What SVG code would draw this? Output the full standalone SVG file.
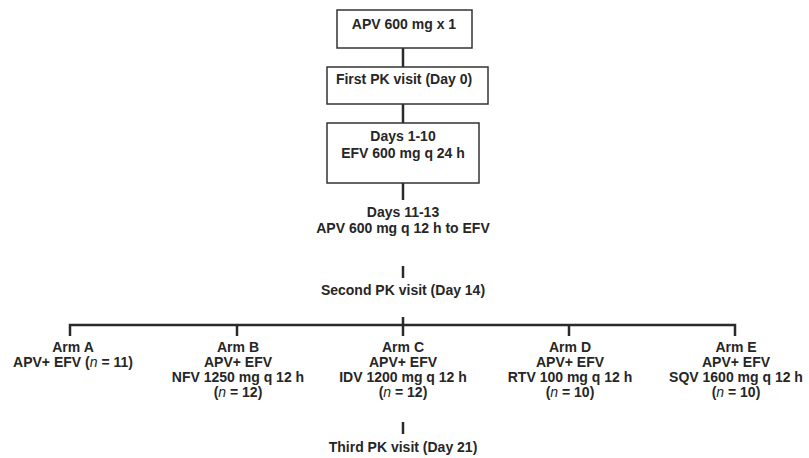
<svg xmlns="http://www.w3.org/2000/svg" width="809" height="458" viewBox="0 0 809 458">
<style>
text{font-family:"Liberation Sans",Arial,sans-serif;font-weight:bold;font-size:14px;fill:#262626;text-anchor:middle}
.box{fill:#fff;stroke:#333;stroke-width:1.5}
.ln{stroke:#2a2a2a;stroke-width:2.5;fill:none}
.i{font-style:italic;font-weight:normal}
</style>
<rect width="809" height="458" fill="#fff"/>
<g id="connectors">
<line class="ln" x1="403" y1="48" x2="403" y2="67"/>
<line class="ln" x1="403" y1="104" x2="403" y2="123"/>
<line class="ln" x1="403" y1="183" x2="403" y2="200"/>
<line class="ln" x1="403" y1="266" x2="403" y2="278"/>
<line class="ln" x1="403" y1="317" x2="403" y2="336"/>
<polyline class="ln" points="70,336 70,325 735,325 735,336"/>
<line class="ln" x1="237" y1="325" x2="237" y2="336"/>
<line class="ln" x1="569" y1="325" x2="569" y2="336"/>
<line class="ln" x1="403" y1="422" x2="403" y2="434"/>
</g>
<g id="n1"><rect class="box" x="337" y="10" width="135" height="38"/><text x="404" y="29">APV 600 mg x 1</text></g>
<g id="n2"><rect class="box" x="327" y="67" width="161" height="37"/><text x="404" y="84">First PK visit (Day 0)</text></g>
<g id="n3"><rect class="box" x="327" y="123" width="152" height="60"/><text x="403" y="141">Days 1-10</text><text x="403" y="158">EFV 600 mg q 24 h</text></g>
<g id="n4"><text x="403" y="217">Days 11-13</text><text x="403" y="233">APV 600 mg q 12 h to EFV</text></g>
<g id="n5"><text x="403" y="295">Second PK visit (Day 14)</text></g>
<g id="armA"><text x="73" y="352">Arm A</text><text x="73" y="367">APV+ EFV (<tspan class="i">n</tspan> = 11)</text></g>
<g id="armB"><text x="238" y="352">Arm B</text><text x="238" y="367">APV+ EFV</text><text x="238" y="382">NFV 1250 mg q 12 h</text><text x="238" y="397">(<tspan class="i">n</tspan> = 12)</text></g>
<g id="armC"><text x="403" y="352">Arm C</text><text x="403" y="367">APV+ EFV</text><text x="403" y="382">IDV 1200 mg q 12 h</text><text x="403" y="397">(<tspan class="i">n</tspan> = 12)</text></g>
<g id="armD"><text x="570" y="352">Arm D</text><text x="570" y="367">APV+ EFV</text><text x="570" y="382">RTV 100 mg q 12 h</text><text x="570" y="397">(<tspan class="i">n</tspan> = 10)</text></g>
<g id="armE"><text x="736" y="352">Arm E</text><text x="736" y="367">APV+ EFV</text><text x="736" y="382">SQV 1600 mg q 12 h</text><text x="736" y="397">(<tspan class="i">n</tspan> = 10)</text></g>
<g id="n6"><text x="403" y="452">Third PK visit (Day 21)</text></g>
</svg>
